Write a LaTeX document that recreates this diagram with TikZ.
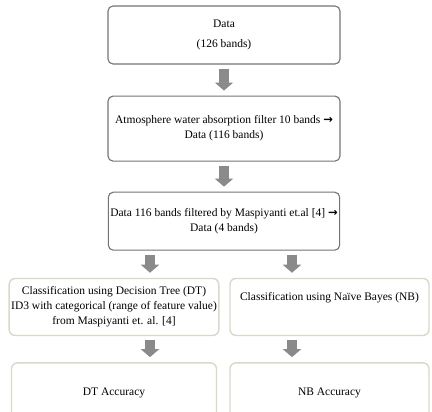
\documentclass[tikz,border=0pt]{standalone}
\usepackage{fontspec}
\setmainfont{Liberation Serif}
\newfontfamily\arrowfont{DejaVu Sans}
\usepackage{tikz}
\usetikzlibrary{positioning}
\usetikzlibrary{arrows.meta}
\definecolor{boxline}{RGB}{115,115,115}
\definecolor{sageline}{RGB}{214,218,200}
\definecolor{arrowgray}{RGB}{138,138,138}
\newcommand{\toarr}{{\arrowfont\bfseries →}}
\tikzstyle{bandbox}=[draw=boxline,line width=1.1pt,rectangle,rounded corners=5pt,align=center,minimum width=232pt,inner sep=2pt]
\tikzstyle{resbox}=[draw=sageline,line width=1.4pt,rectangle,rounded corners=6pt,align=center,inner sep=2pt,fill=white]
\tikzstyle{blockarr}=[draw=arrowgray,line width=10pt,-{Triangle[length=8pt,width=18pt]},arrowgray,shorten <=4pt,shorten >=5pt]

\begin{document}
\begin{tikzpicture}[x=1pt,y=-1pt,font=\fontsize{11.5}{15}\selectfont]
	\useasboundingbox (0,0) rectangle (432,412);
	\node[bandbox,minimum height=58pt] (data) at (224,35) {Data\\[5pt](126 bands)};
	\node[bandbox,minimum height=65pt,below=31pt of data] (atmo) {Atmosphere water absorption filter 10 bands \toarr\\Data (116 bands)};
	\node[bandbox,minimum height=58pt,minimum width=230pt,below=30pt of atmo] (filt) {Data 116 bands filtered by Maspiyanti et.al [4] \toarr\\Data (4 bands)};
	
	\node[resbox,minimum width=205pt,minimum height=57pt,below=27pt of filt.south,xshift=-110pt] (dtcls) {Classification using Decision Tree (DT)\\ID3 with categorical (range of feature value)\\from Maspiyanti et. al. [4]};
	\node[resbox,minimum width=199pt,minimum height=57pt,below=27pt of filt.south,xshift=105.5pt] (nbcls) {Classification using Naïve Bayes (NB)\\[6pt]};
	\node[resbox,minimum width=205pt,minimum height=60pt,below=26pt of dtcls] (dtacc) {DT Accuracy};
	\node[resbox,minimum width=199pt,minimum height=60pt,below=26pt of nbcls] (nbacc) {NB Accuracy};
	
	\coordinate (dtfork) at ([xshift=-74pt]filt.south);
	\coordinate (nbfork) at ([xshift=68pt]filt.south);
	
	\draw[blockarr] (data) -- (atmo);
	\draw[blockarr] (atmo) -- (filt);
	\draw[blockarr] (dtfork) -- (dtfork |- dtcls.north);
	\draw[blockarr] (nbfork) -- (nbfork |- nbcls.north);
	\draw[blockarr] (dtcls.south -| dtfork) -- (dtacc.north -| dtfork);
	\draw[blockarr] (nbcls.south -| nbfork) -- (nbacc.north -| nbfork);
\end{tikzpicture}
\end{document}
